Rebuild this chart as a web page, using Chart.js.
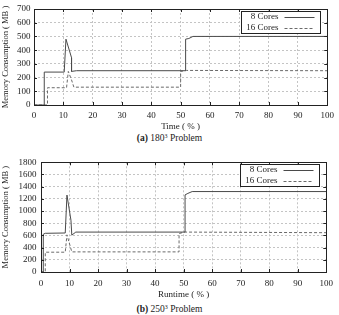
<!DOCTYPE html>
<html>
<head>
<meta charset="utf-8">
<script src="https://cdn.jsdelivr.net/npm/chart.js@4.4.0/dist/chart.umd.min.js"></script>
<style>
  body { margin: 0; background: #fff; width: 339px; height: 315px; position: relative; overflow: hidden; font-family: "Liberation Serif", serif; }
  canvas { position: absolute; left: 0; }
  .caption { position: absolute; left: 0; width: 339px; text-align: center; font-size: 9.5px; color: #222; line-height: 12px; }
  .caption sup { font-size: 6px; vertical-align: 3px; line-height: 0; }
</style>
</head>
<body>
<canvas id="chartA" width="339" height="132" style="top:0"></canvas>
<div class="caption" style="top:132px"><b>(a)</b> 180<sup>3</sup> Problem</div>
<canvas id="chartB" width="339" height="150" style="top:150px"></canvas>
<div class="caption" style="top:303px"><b>(b)</b> 250<sup>3</sup> Problem</div>

<script>
const seriesLabels = ["8 Cores", "16 Cores"];

// (a) 180^3 problem
const timeA8 = [0, 3.5, 3.5, 10.3, 10.9, 12.8, 12.8, 14.5, 51.7, 51.7, 52.8, 54.2, 100];
const memA8 = [0, 0, 240, 240, 480, 345, 245, 250, 250, 480, 485, 500, 500];
const timeA16 = [0, 4.6, 4.6, 11.1, 11.7, 12.8, 13.6, 50, 50, 52, 100];
const memA16 = [0, 0, 126, 126, 245, 183, 130, 130, 245, 252, 250];

// (b) 250^3 problem
const timeB8 = [0, 0.8, 0.8, 1.5, 8.5, 9.1, 10.5, 10.8, 12.2, 50.5, 50.5, 51.5, 53, 100];
const memB8 = [0, 0, 620, 635, 640, 1262, 850, 605, 655, 655, 1265, 1290, 1320, 1320];
const timeB16 = [0, 1.5, 1.5, 8.5, 9.1, 10.8, 48.4, 48.4, 50.2, 100];
const memB16 = [0, 0, 325, 325, 610, 330, 330, 630, 655, 645];

const xTitleA = "Time ( % )";
const xTitleB = "Runtime ( % )";
const yTitle = "Memory Consumption ( MB )";

const serif = "'Liberation Serif', 'DejaVu Serif', serif";
const textColor = "#222";

function toPoints(xs, ys) {
  return xs.map((x, i) => ({ x: x, y: ys[i] }));
}

const boxPlugin = {
  id: "boxPlugin",
  afterDraw(chart) {
    const ctx = chart.ctx;
    const a = chart.chartArea;
    const xs = chart.scales.x;
    const ys = chart.scales.y;
    ctx.save();
    ctx.strokeStyle = "#222";
    ctx.lineWidth = 1;
    ctx.setLineDash([]);

    // inner tick marks on all four sides
    ctx.beginPath();
    xs.ticks.forEach(t => {
      const px = Math.round(xs.getPixelForValue(t.value)) + 0.5;
      ctx.moveTo(px, a.bottom); ctx.lineTo(px, a.bottom - 3);
      ctx.moveTo(px, a.top); ctx.lineTo(px, a.top + 3);
    });
    ys.ticks.forEach(t => {
      const py = Math.round(ys.getPixelForValue(t.value)) + 0.5;
      ctx.moveTo(a.left, py); ctx.lineTo(a.left + 3, py);
      ctx.moveTo(a.right, py); ctx.lineTo(a.right - 3, py);
    });
    ctx.stroke();

    ctx.strokeRect(Math.round(a.left) + 0.5, Math.round(a.top) + 0.5,
      Math.round(a.right - a.left), Math.round(a.bottom - a.top));

    // legend box
    const lx = Math.round(a.right - 86.5) + 0.5;
    const ly = Math.round(a.top + 2) + 0.5;
    ctx.fillStyle = "#fff";
    ctx.fillRect(lx, ly, 79, 22);
    ctx.strokeRect(lx, ly, 79, 22);

    ctx.font = "9px " + serif;
    ctx.fillStyle = textColor;
    ctx.textAlign = "right";
    ctx.textBaseline = "middle";
    chart.data.datasets.forEach((ds, i) => {
      const ry = ly + 5.5 + i * 11;
      ctx.fillText(ds.label, lx + 37, ry);
      ctx.strokeStyle = ds.borderColor;
      ctx.setLineDash(ds.borderDash || []);
      ctx.beginPath();
      ctx.moveTo(lx + 43, Math.round(ry) + 0.5);
      ctx.lineTo(lx + 73, Math.round(ry) + 0.5);
      ctx.stroke();
    });
    ctx.restore();
  }
};

function makeChart(id, t8, m8, t16, m16, yMax, yStep, xTitle, pad, yWidth, xHeight, yPad, xPad) {
  return new Chart(document.getElementById(id), {
    type: "line",
    data: {
      datasets: [
        {
          label: seriesLabels[0],
          data: toPoints(t8, m8),
          borderColor: "#4a4a4a",
          borderWidth: 1,
          pointRadius: 0,
          tension: 0,
          fill: false
        },
        {
          label: seriesLabels[1],
          data: toPoints(t16, m16),
          borderColor: "#6a6a6a",
          borderWidth: 1,
          borderDash: [3, 2],
          pointRadius: 0,
          tension: 0,
          fill: false
        }
      ]
    },
    options: {
      responsive: false,
      animation: false,
      devicePixelRatio: 1,
      layout: { padding: pad },
      plugins: {
        legend: { display: false },
        tooltip: { enabled: false }
      },
      scales: {
        x: {
          type: "linear",
          min: 0,
          max: 100,
          afterFit: s => { s.height = xHeight; },
          ticks: { stepSize: 10, autoSkip: false, font: { family: serif, size: 9 }, color: textColor, padding: xPad, maxRotation: 0, callback: v => String(v) },
          grid: { color: "#c4c4c4", drawTicks: false },
          border: { display: false, dash: [2, 2] },
          title: { display: true, text: xTitle, font: { family: serif, size: 9 }, color: textColor, padding: { top: 0, bottom: 0 } }
        },
        y: {
          min: 0,
          max: yMax,
          afterFit: s => { s.width = yWidth; },
          ticks: { stepSize: yStep, autoSkip: false, font: { family: serif, size: 9 }, color: textColor, padding: yPad, callback: v => String(v) },
          grid: { color: "#c4c4c4", drawTicks: false },
          border: { display: false, dash: [2, 2] },
          title: { display: true, text: yTitle, font: { family: serif, size: 8.5 }, color: textColor, padding: { top: 1, bottom: 0 } }
        }
      }
    },
    plugins: [boxPlugin]
  });
}

makeChart("chartA", timeA8, memA8, timeA16, memA16, 700, 100, xTitleA,
  { top: 9, right: 10.5, left: 0, bottom: 0 }, 34, 27, 3.5, 5);
makeChart("chartB", timeB8, memB8, timeB16, memB16, 1800, 200, xTitleB,
  { top: 12.3, right: 11, left: 0, bottom: 0 }, 41, 28, 4.5, 6);
</script>
</body>
</html>
